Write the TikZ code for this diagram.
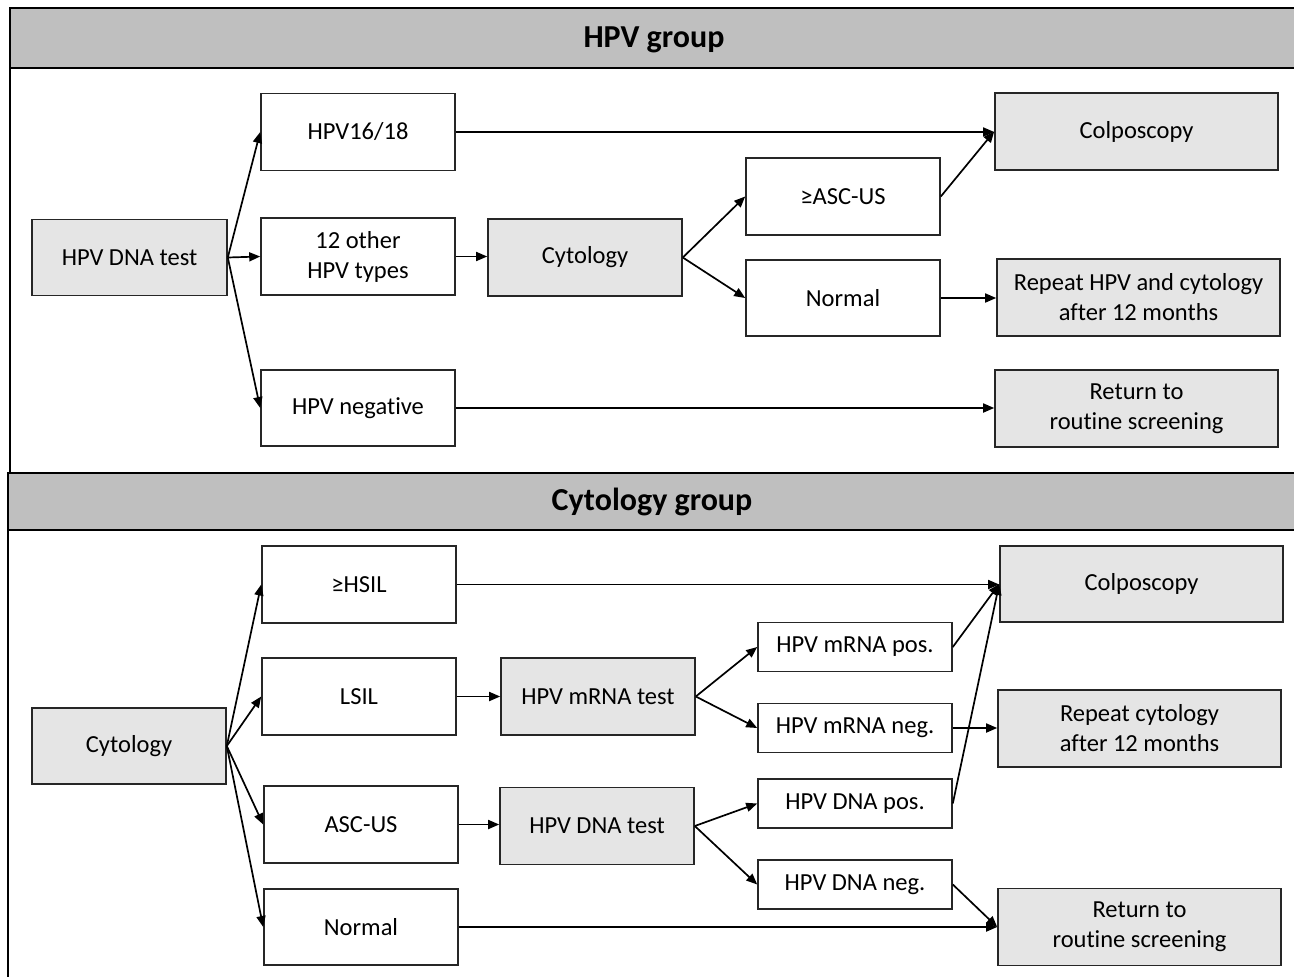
\documentclass[tikz,border=0pt]{standalone}
\usepackage{fontspec}
\setmainfont{Carlito}[Ligatures={NoCommon}]
\usetikzlibrary{arrows.meta}
\tikzset{
  base/.style={draw=black!85, line width=1.6pt, inner sep=2pt, align=center,
    font=\fontsize{24.5pt}{30pt}\selectfont},
  wbox/.style={base, fill=white},
  gbox/.style={base, fill=black!10},
  sz/.style n args={2}{minimum width=#1pt, minimum height=#2pt},
  conn/.style={line width=1.7pt, black, -{Triangle[length=11pt,width=9pt]}},
  frame/.style={draw=black, line width=2pt},
  hdr/.style={draw=black, line width=2pt, fill=black!25},
  title/.style={font=\bfseries\fontsize{32pt}{36pt}\selectfont}
}
\begin{document}
\begin{tikzpicture}[x=1pt,y=-1pt]
\useasboundingbox (0,0) rectangle (1294,977);
\clip (0,0) rectangle (1294,977);
% frames
\draw[frame] (10,8) rectangle (1310,473);
\draw[hdr] (10,8) rectangle (1310,68);
\node[title] (t1) at (654,40) {HPV group};
\draw[frame] (8,473) rectangle (1310,1000);
\draw[hdr] (8,473) rectangle (1310,530);
\node[title] (t2) at (652,502) {Cytology group};

% top section
\node[gbox, sz={195}{76}] (dna) at (129.5,257.5) {HPV DNA test};
\node[wbox, sz={194}{77}] (h1618) at (358,132) {HPV16/18};
\node[wbox, sz={194}{77}] (other) at (358,256.5) {12 other\\HPV types};
\node[wbox, sz={194}{76}] (hneg) at (358,408) {HPV negative};
\node[gbox, sz={194}{77}] (cyt) at (585,257.5) {Cytology};
\node[wbox, sz={194}{77}] (asc) at (843,196.5) {≥ASC-US};
\node[wbox, sz={194}{76}] (norm) at (843,298) {Normal};
\node[gbox, sz={283}{77}] (colp) at (1136.5,131.5) {Colposcopy};
\node[gbox, sz={283}{77}] (rep) at (1138.5,297.5) {Repeat HPV and cytology\\after 12 months};
\node[gbox, sz={283}{77}] (ret) at (1136.5,408.5) {Return to\\routine screening};

\draw[conn] (dna.east) -- (h1618.west);
\draw[conn] (dna.east) -- (other.west);
\draw[conn] (dna.east) -- (hneg.west);
\draw[conn] (h1618.east) -- (h1618.east -| colp.west);
\draw[conn] (other.east) -- (other.east -| cyt.west);
\draw[conn] (cyt.east) -- (asc.west);
\draw[conn] (cyt.east) -- (norm.west);
\draw[conn] (asc.east) -- (colp.west);
\draw[conn] (norm.east) -- (norm.east -| rep.west);
\draw[conn] (hneg.east) -- (hneg.east -| ret.west);

% bottom section
\node[gbox, sz={194}{76}] (cyt2) at (129,746) {Cytology};
\node[wbox, sz={194}{77}] (hsil) at (359,584.5) {≥HSIL};
\node[wbox, sz={194}{77}] (lsil) at (359,696.5) {LSIL};
\node[wbox, sz={194}{77}] (ascus) at (361,824.5) {ASC-US};
\node[wbox, sz={194}{76}] (norm2) at (361,927) {Normal};
\node[gbox, sz={194}{77}] (mrna) at (598,696.5) {HPV mRNA test};
\node[gbox, sz={194}{77}] (dnat) at (597,826) {HPV DNA test};
\node[wbox, sz={194}{49}] (mpos) at (855,647) {HPV mRNA pos.};
\node[wbox, sz={194}{49}] (mneg) at (855,728) {HPV mRNA neg.};
\node[wbox, sz={194}{49}] (dpos) at (855,803.5) {HPV DNA pos.};
\node[wbox, sz={194}{49}] (dneg) at (855,884.5) {HPV DNA neg.};
\node[gbox, sz={283}{76}] (colp2) at (1141.5,584) {Colposcopy};
\node[gbox, sz={283}{77}] (rep2) at (1139.5,728.5) {Repeat cytology\\after 12 months};
\node[gbox, sz={283}{77}] (ret2) at (1139.5,927) {Return to\\routine screening};

\draw[conn] (cyt2.east) -- (hsil.west);
\draw[conn] (cyt2.east) -- (lsil.west);
\draw[conn] (cyt2.east) -- (ascus.west);
\draw[conn] (cyt2.east) -- (norm2.west);
\draw[conn] (hsil.east) -- (hsil.east -| colp2.west);
\draw[conn] (lsil.east) -- (lsil.east -| mrna.west);
\draw[conn] (ascus.east) -- (ascus.east -| dnat.west);
\draw[conn] (mrna.east) -- (mpos.west);
\draw[conn] (mrna.east) -- (mneg.west);
\draw[conn] (dnat.east) -- (dpos.west);
\draw[conn] (dnat.east) -- (dneg.west);
\draw[conn] (mpos.east) -- (colp2.west);
\draw[conn] (dpos.east) -- (colp2.west);
\draw[conn] (mneg.east) -- (mneg.east -| rep2.west);
\draw[conn] (dneg.east) -- (ret2.west);
\draw[conn] (norm2.east) -- (norm2.east -| ret2.west);
\end{tikzpicture}
\end{document}
